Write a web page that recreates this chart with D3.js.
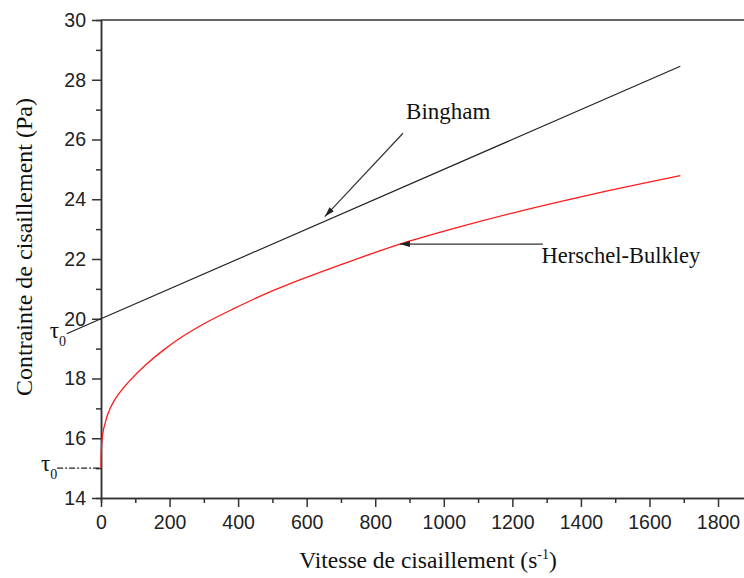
<!DOCTYPE html>
<html>
<head>
<meta charset="utf-8">
<script src="https://cdn.jsdelivr.net/npm/d3@7"></script>
<style>
  body { margin: 0; background: #fff; }
  svg { display: block; }
</style>
</head>
<body>
<svg id="vis"></svg>
<script>
const plotWidth = 744;
const plotHeight = 578;

// data
const xTicks = [0, 200, 400, 600, 800, 1000, 1200, 1400, 1600, 1800];
const xMinor = [100, 300, 500, 700, 900, 1100, 1300, 1500, 1700];
const yTicks = [14, 16, 18, 20, 22, 24, 26, 28, 30];
const yMinor = [15, 17, 19, 21, 23, 25, 27, 29];

const binghamX = [-100, 0, 1690];
const binghamY = [19.5, 20, 28.45];

const hbX = [0, 1, 3, 7, 12, 19, 26, 38, 50, 65, 80, 130, 182, 240, 303, 386, 483, 580, 678, 775, 872, 1038, 1232, 1426, 1690];
const hbY = [15, 15.6, 15.95, 16.28, 16.5, 16.78, 16.98, 17.25, 17.46, 17.68, 17.88, 18.45, 18.95, 19.42, 19.85, 20.33, 20.85, 21.3, 21.72, 22.12, 22.5, 23.05, 23.63, 24.15, 24.79];

const tau0Line = [-128, 0];   // dash-dot line at tau0 of Herschel-Bulkley
const tau0 = 15;

const svg = d3.select('#vis')
    .attr('width', plotWidth)
    .attr('height', plotHeight);

const x = d3.scaleLinear().domain([0, 1900]).range([101, 752.3]);
const y = d3.scaleLinear().domain([14, 30]).range([498, 20]);

const axisColor = '#333';
const sans = '"Liberation Sans", Arial, sans-serif';
const serif = '"Liberation Serif", "Times New Roman", serif';

function styleAxis(g) {
    g.select('.domain').attr('stroke', axisColor).attr('stroke-width', 1.5);
    g.selectAll('.tick line').attr('stroke', axisColor).attr('stroke-width', 1.5);
    g.selectAll('.tick text').attr('fill', '#222').style('font-family', sans).style('font-size', '19.5px');
}

// top frame line
svg.append('line')
    .attr('x1', x(0)).attr('x2', x(1900))
    .attr('y1', y(30)).attr('y2', y(30))
    .attr('stroke', axisColor).attr('stroke-width', 1.5);

// x axis
svg.append('g')
    .attr('transform', `translate(0,${y(14)})`)
    .call(d3.axisBottom(x).tickValues(xMinor).tickSize(5).tickFormat(''))
    .call(styleAxis);
svg.append('g')
    .attr('transform', `translate(0,${y(14)})`)
    .call(d3.axisBottom(x).tickValues(xTicks).tickSize(9).tickSizeOuter(0).tickPadding(8).tickFormat(d3.format('d')))
    .call(styleAxis);

// y axis
svg.append('g')
    .attr('transform', `translate(${x(0)},0)`)
    .call(d3.axisLeft(y).tickValues(yMinor).tickSize(5).tickFormat(''))
    .call(styleAxis);
svg.append('g')
    .attr('transform', `translate(${x(0)},0)`)
    .call(d3.axisLeft(y).tickValues(yTicks).tickSize(9).tickSizeOuter(0).tickPadding(6).tickFormat(d3.format('d')))
    .call(styleAxis);

// axis titles
const xTitle = svg.append('text')
    .attr('x', 428).attr('y', 568)
    .attr('text-anchor', 'middle')
    .style('font-family', serif).style('font-size', '23.5px').attr('fill', '#111');
xTitle.append('tspan').text('Vitesse de cisaillement (s');
xTitle.append('tspan').attr('dy', -9).style('font-size', '14px').text('-1');
xTitle.append('tspan').attr('dy', 9).text(')');

svg.append('text')
    .attr('transform', 'translate(32,247) rotate(-90)')
    .attr('text-anchor', 'middle')
    .style('font-family', serif).style('font-size', '24px').attr('fill', '#111')
    .text('Contrainte de cisaillement (Pa)');

// curves
const line = d3.line().x(d => x(d[0])).y(d => y(d[1]));

svg.append('path')
    .datum(binghamX.map((v, i) => [v, binghamY[i]]))
    .attr('d', line)
    .attr('fill', 'none').attr('stroke', '#222').attr('stroke-width', 1.2);

svg.append('path')
    .datum(hbX.map((v, i) => [v, hbY[i]]))
    .attr('d', line.curve(d3.curveCatmullRom.alpha(0.5)))
    .attr('fill', 'none').attr('stroke', '#ff1a1a').attr('stroke-width', 1.3);

svg.append('line')
    .attr('x1', x(tau0Line[0])).attr('x2', x(tau0Line[1]))
    .attr('y1', y(tau0)).attr('y2', y(tau0))
    .attr('stroke', '#222').attr('stroke-width', 1.2)
    .attr('stroke-dasharray', '6,2,2,2');

// tau0 labels
function tauLabel(px, py) {
    const t = svg.append('text')
        .attr('x', px).attr('y', py)
        .style('font-family', serif).style('font-size', '23px').attr('fill', '#111');
    t.append('tspan').text('τ');
    t.append('tspan').attr('dy', 8).style('font-size', '14px').text('0');
}
tauLabel(x(binghamX[0]) - 17, y(binghamY[0]) + 4);
tauLabel(x(tau0Line[0]) - 16, y(tau0) + 3);

// annotations
svg.append('defs').append('marker')
    .attr('id', 'arrow')
    .attr('viewBox', '0 0 10 6')
    .attr('refX', 10).attr('refY', 3)
    .attr('markerWidth', 10).attr('markerHeight', 6)
    .attr('markerUnits', 'userSpaceOnUse')
    .attr('orient', 'auto')
    .append('path')
    .attr('d', 'M0,0 L10,3 L0,6 Z')
    .attr('fill', '#222');

svg.append('line')
    .attr('x1', x(881)).attr('y1', y(26.21))
    .attr('x2', x(653)).attr('y2', y(23.42))
    .attr('stroke', '#333').attr('stroke-width', 1.2)
    .attr('marker-end', 'url(#arrow)');
svg.append('text')
    .attr('x', x(890)).attr('y', y(26.69))
    .style('font-family', serif).style('font-size', '23px').attr('fill', '#111')
    .text('Bingham');

svg.append('line')
    .attr('x1', x(1289)).attr('y1', y(22.5))
    .attr('x2', x(872)).attr('y2', y(22.5))
    .attr('stroke', '#333').attr('stroke-width', 1.2)
    .attr('marker-end', 'url(#arrow)');
svg.append('text')
    .attr('x', x(1285)).attr('y', y(21.87))
    .style('font-family', serif).style('font-size', '22.5px').attr('fill', '#111')
    .text('Herschel-Bulkley');
</script>
</body>
</html>
